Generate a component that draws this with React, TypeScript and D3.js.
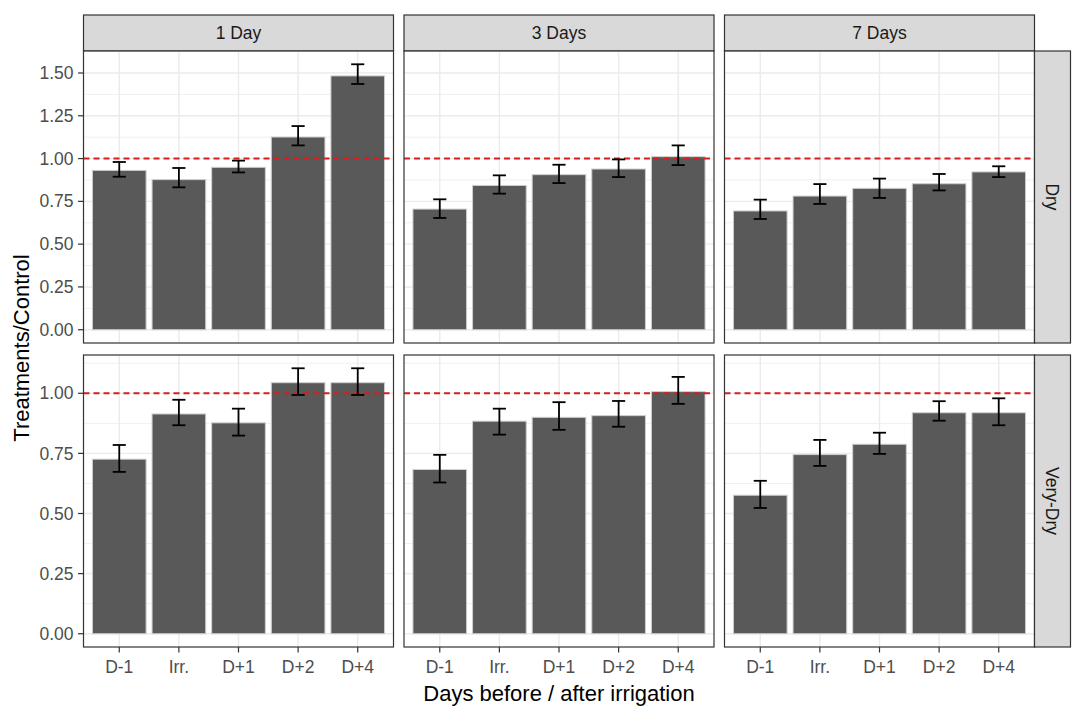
import * as d3 from "d3";

const categories = ["D-1", "Irr.", "D+1", "D+2", "D+4"];
const periods = ["1 Day", "3 Days", "7 Days"];
const conditions = ["Dry", "Very-Dry"];

// one inner array per period (1 Day, 3 Days, 7 Days)
const dryMeans = [
  [0.931, 0.877, 0.949, 1.126, 1.483],
  [0.705, 0.843, 0.906, 0.939, 1.011],
  [0.694, 0.781, 0.826, 0.853, 0.922],
];
const dryLower = [
  [0.894, 0.832, 0.919, 1.077, 1.436],
  [0.653, 0.795, 0.857, 0.892, 0.962],
  [0.647, 0.735, 0.77, 0.814, 0.892],
];
const dryUpper = [
  [0.98, 0.945, 0.988, 1.19, 1.551],
  [0.762, 0.902, 0.964, 0.995, 1.077],
  [0.76, 0.851, 0.883, 0.91, 0.955],
];

const veryDryMeans = [
  [0.726, 0.914, 0.877, 1.044, 1.044],
  [0.683, 0.884, 0.9, 0.907, 1.007],
  [0.576, 0.745, 0.788, 0.919, 0.919],
];
const veryDryLower = [
  [0.673, 0.867, 0.824, 0.993, 0.993],
  [0.629, 0.828, 0.848, 0.861, 0.956],
  [0.523, 0.698, 0.748, 0.886, 0.867],
];
const veryDryUpper = [
  [0.785, 0.973, 0.936, 1.104, 1.104],
  [0.744, 0.936, 0.963, 0.968, 1.068],
  [0.636, 0.806, 0.836, 0.967, 0.979],
];

const dryTicks = [0, 0.25, 0.5, 0.75, 1, 1.25, 1.5];
const veryDryTicks = [0, 0.25, 0.5, 0.75, 1];
const reference = 1;

const rows = [
  { means: dryMeans, lower: dryLower, upper: dryUpper, ticks: dryTicks },
  { means: veryDryMeans, lower: veryDryLower, upper: veryDryUpper, ticks: veryDryTicks },
];

const width = 1084;
const height = 714;
const left = 83.5;
const panelW = 310;
const colGap = 10.5;
const stripTop = 15;
const stripH = 36;
const panelTop = stripTop + stripH;
const panelH = 292;
const rowGap = 12;
const font = "'Liberation Sans', Arial, sans-serif";
const border = "#333333";

export default function App() {
  const x = d3
    .scaleBand()
    .domain(categories)
    .range([0, panelW])
    .paddingInner(0.1)
    .paddingOuter(0.15);
  const step = x.step();
  const capHalf = step * 0.11;
  const right = left + 3 * panelW + 2 * colGap;
  const bottom = panelTop + 2 * panelH + rowGap;

  return (
    <div style={{ position: "absolute", left: 0, top: 0 }}>
      <svg width={width} height={height} style={{ display: "block", fontFamily: font }}>
        <rect width={width} height={height} fill="white" />
        {periods.map((p, c) => {
          const px = left + c * (panelW + colGap);
          return (
            <g key={p} transform={`translate(${px},${stripTop})`}>
              <rect width={panelW} height={stripH} fill="#d9d9d9" stroke={border} strokeWidth={1.2} />
              <text x={panelW / 2} y={stripH / 2} dy="0.35em" textAnchor="middle" fontSize={17.5} fill="#1a1a1a">
                {p}
              </text>
            </g>
          );
        })}
        {rows.map((row, r) => {
          const py = panelTop + r * (panelH + rowGap);
          const maxV = d3.max(row.upper.flat());
          const pad = maxV * 0.05;
          const y = d3.scaleLinear([-pad, maxV + pad], [panelH, 0]);
          const minor = [];
          for (let i = 0; i < row.ticks.length; i++) {
            const t = row.ticks[i];
            const half = (row.ticks[1] - row.ticks[0]) / 2;
            if (t + half <= maxV + pad) minor.push(t + half);
          }
          return (
            <g key={conditions[r]}>
              {periods.map((p, c) => {
                const px = left + c * (panelW + colGap);
                return (
                  <g key={p} transform={`translate(${px},${py})`}>
                    <rect width={panelW} height={panelH} fill="white" />
                    {minor.map((t) => (
                      <line key={"m" + t} x1={0} x2={panelW} y1={y(t)} y2={y(t)} stroke="#ebebeb" strokeWidth={0.8} />
                    ))}
                    {row.ticks.map((t) => (
                      <line key={"g" + t} x1={0} x2={panelW} y1={y(t)} y2={y(t)} stroke="#ebebeb" strokeWidth={1.4} />
                    ))}
                    {categories.map((cat) => {
                      const cx = x(cat) + x.bandwidth() / 2;
                      return <line key={"v" + cat} x1={cx} x2={cx} y1={0} y2={panelH} stroke="#ebebeb" strokeWidth={1.4} />;
                    })}
                    {categories.map((cat, i) => (
                      <rect
                        key={"b" + cat}
                        x={x(cat)}
                        width={x.bandwidth()}
                        y={y(row.means[c][i])}
                        height={y(0) - y(row.means[c][i])}
                        fill="#595959"
                        stroke="#cfcfcf"
                        strokeWidth={1}
                      />
                    ))}
                    <line
                      x1={0}
                      x2={panelW}
                      y1={y(reference)}
                      y2={y(reference)}
                      stroke="#d81e1e"
                      strokeWidth={2}
                      strokeDasharray="6 4"
                    />
                    {categories.map((cat, i) => {
                      const cx = x(cat) + x.bandwidth() / 2;
                      const lo = y(row.lower[c][i]);
                      const hi = y(row.upper[c][i]);
                      return (
                        <g key={"e" + cat} stroke="black" strokeWidth={1.8}>
                          <line x1={cx} x2={cx} y1={lo} y2={hi} />
                          <line x1={cx - capHalf} x2={cx + capHalf} y1={lo} y2={lo} />
                          <line x1={cx - capHalf} x2={cx + capHalf} y1={hi} y2={hi} />
                        </g>
                      );
                    })}
                    <rect width={panelW} height={panelH} fill="none" stroke={border} strokeWidth={1.2} />
                    {r === 1 &&
                      categories.map((cat) => {
                        const cx = x(cat) + x.bandwidth() / 2;
                        return (
                          <g key={"xt" + cat}>
                            <line x1={cx} x2={cx} y1={panelH} y2={panelH + 5.5} stroke={border} strokeWidth={1.2} />
                            <text x={cx} y={panelH + 26} textAnchor="middle" fontSize={17.5} fill="#4d4d4d">
                              {cat}
                            </text>
                          </g>
                        );
                      })}
                  </g>
                );
              })}
              {row.ticks.map((t) => (
                <g key={"yt" + t}>
                  <line x1={left - 5.5} x2={left} y1={py + y(t)} y2={py + y(t)} stroke={border} strokeWidth={1.2} />
                  <text x={left - 10} y={py + y(t)} dy="0.35em" textAnchor="end" fontSize={17.5} fill="#4d4d4d">
                    {t.toFixed(2)}
                  </text>
                </g>
              ))}
              <g transform={`translate(${right},${py})`}>
                <rect width={stripH} height={panelH} fill="#d9d9d9" stroke={border} strokeWidth={1.2} />
                <text
                  transform={`translate(${stripH / 2},${panelH / 2}) rotate(90)`}
                  dy="0.35em"
                  textAnchor="middle"
                  fontSize={17.5}
                  fill="#1a1a1a"
                >
                  {conditions[r]}
                </text>
              </g>
            </g>
          );
        })}
        <text x={(left + right) / 2} y={bottom + 54} textAnchor="middle" fontSize={22} fill="black">
          Days before / after irrigation
        </text>
        <text
          transform={`translate(29,${(panelTop + bottom) / 2 - 1}) rotate(-90)`}
          textAnchor="middle"
          fontSize={22}
          fill="black"
        >
          Treatments/Control
        </text>
      </svg>
    </div>
  );
}
